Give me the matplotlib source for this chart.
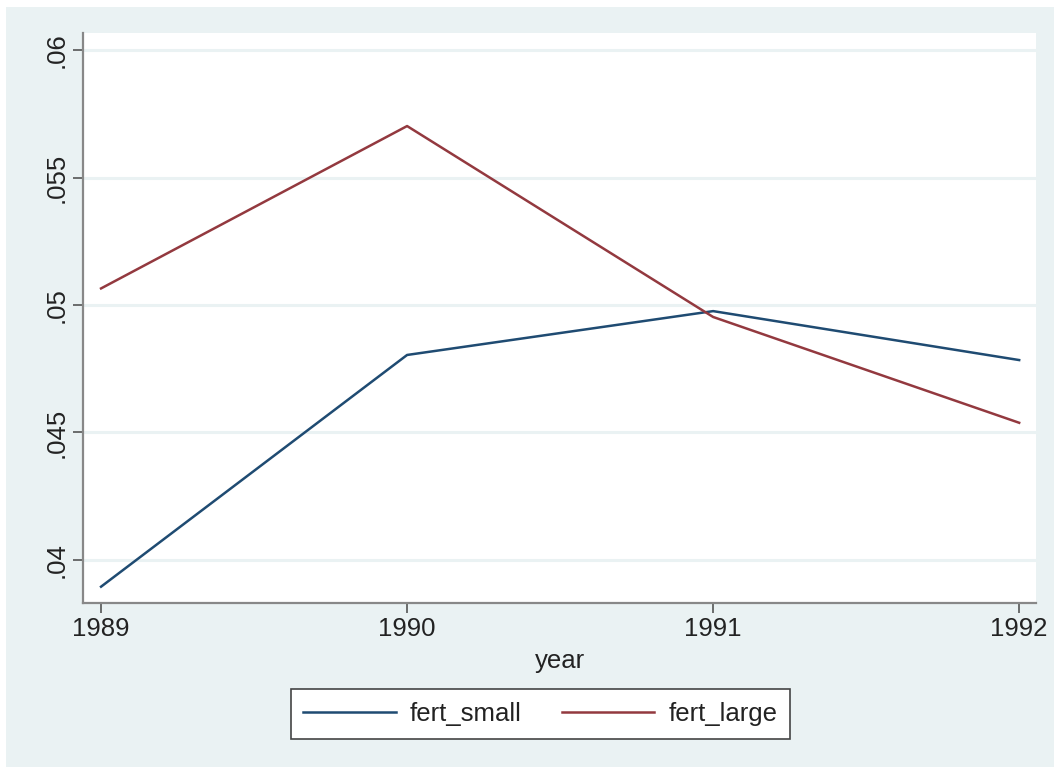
import matplotlib.pyplot as plt
import matplotlib.patches as mpatches

# data
years = [1989, 1990, 1991, 1992]
fert_small = [0.03895, 0.04804, 0.04976, 0.04784]
fert_large = [0.05065, 0.05702, 0.04953, 0.04538]

y_ticks = [0.04, 0.045, 0.05, 0.055, 0.06]
y_tick_labels = [".04", ".045", ".05", ".055", ".06"]

plt.rcParams['font.family'] = ['Liberation Sans', 'DejaVu Sans']

bg = '#eaf2f3'
W, H = 1054, 769
fig = plt.figure(figsize=(W / 100, H / 100), dpi=100)
fig.patch.set_facecolor('white')
# stata-like gray graph region (small white margin on top/left)
fig.add_artist(mpatches.Rectangle((6 / W, 2 / H), 1 - 6 / W, 1 - 9 / H,
                                  transform=fig.transFigure,
                                  facecolor=bg, edgecolor='none', zorder=-5))

ax = fig.add_axes([83 / W, 1 - 603 / H, (1036 - 83) / W, (603 - 33) / H])
ax.set_facecolor('white')

for yt in y_ticks:
    ax.axhline(yt, color=bg, linewidth=2.2, zorder=1)

ax.plot(years, fert_small, color='#1f4b72', linewidth=1.8, label='fert_small', zorder=3)
ax.plot(years, fert_large, color='#93393f', linewidth=1.8, label='fert_large', zorder=3)

ax.set_xlim(1988.941, 1992.055)
ax.set_ylim(0.03831, 0.06067)

ax.set_xticks(years)
ax.set_xticklabels([str(y) for y in years])
ax.set_yticks(y_ticks)
ax.set_yticklabels(y_tick_labels, rotation=90, va='center')

for s in ['top', 'right']:
    ax.spines[s].set_visible(False)
for s in ['left', 'bottom']:
    ax.spines[s].set_color('#888888')
    ax.spines[s].set_linewidth(1.6)

ax.tick_params(axis='both', length=7, width=1.2, color='#555555',
               labelsize=18.5, labelcolor='#222222', pad=3)

ax.set_xlabel('year', fontsize=18.5, color='#222222', labelpad=6)

leg = ax.legend(loc='upper center', bbox_to_anchor=(0.48, -0.151), ncol=2,
                frameon=True, fancybox=False, fontsize=18.5, framealpha=1,
                handlelength=3.6, columnspacing=1.55, handletextpad=0.55,
                borderpad=0.5, borderaxespad=0)
leg.get_frame().set_edgecolor('#444444')
leg.get_frame().set_facecolor('white')
leg.get_frame().set_linewidth(1.2)
for t in leg.get_texts():
    t.set_color('#222222')

fig.savefig('out.png', dpi=100, facecolor=fig.get_facecolor())
